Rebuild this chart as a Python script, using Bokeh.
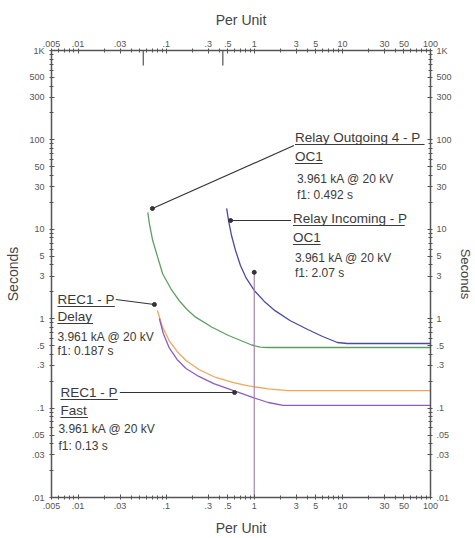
import math
from bokeh.plotting import figure
from bokeh.models import Range1d, LogAxis, FixedTicker, Label
from bokeh.embed import file_html
from bokeh.resources import INLINE

# ---------------- data ----------------
x_major = [0.005, 0.01, 0.03, 0.1, 0.3, 0.5, 1, 3, 5, 10, 30, 50, 100]
x_labels = [".005", ".01", ".03", ".1", ".3", ".5", "1", "3", "5", "10", "30", "50", "100"]
x_minor = [0.006, 0.007, 0.008, 0.009, 0.02, 0.04, 0.05, 0.06, 0.07, 0.08, 0.09,
           0.2, 0.4, 0.6, 0.7, 0.8, 0.9, 2, 4, 6, 7, 8, 9, 20, 40, 60, 70, 80, 90]
y_major = [0.01, 0.03, 0.05, 0.1, 0.3, 0.5, 1, 3, 5, 10, 30, 50, 100, 300, 500, 1000]
y_labels = [".01", ".03", ".05", ".1", ".3", ".5", "1", "3", "5", "10", "30", "50", "100", "300", "500", "1K"]
y_minor = [0.02, 0.04, 0.06, 0.07, 0.08, 0.09, 0.2, 0.4, 0.6, 0.7, 0.8, 0.9,
           2, 4, 6, 7, 8, 9, 20, 40, 60, 70, 80, 90, 200, 400, 600, 700, 800, 900]

# Relay Outgoing 4 - P OC1 (green)
out4_pu = [0.0619, 0.0646, 0.0704, 0.0801, 0.0912, 0.1133, 0.140, 0.1726, 0.216, 0.332, 0.511, 0.934, 1.17, 1.44, 100]
out4_s = [15.5, 11.5, 7.49, 4.88, 3.18, 2.16, 1.60, 1.267, 1.04, 0.803, 0.649, 0.508, 0.482, 0.476, 0.476]
# Relay Incoming - P OC1 (blue)
inc_pu = [0.486, 0.511, 0.552, 0.613, 0.697, 0.814, 1.00, 1.30, 1.72, 2.54, 4.04, 5.96, 8.78, 11.4, 100]
inc_s = [17.1, 12.5, 8.52, 5.79, 3.94, 2.82, 2.07, 1.56, 1.23, 0.955, 0.757, 0.632, 0.542, 0.528, 0.528]
# REC1 - P Delay (orange)
rdel_pu = [0.0795, 0.0905, 0.108, 0.133, 0.168, 0.235, 0.365, 0.582, 0.857, 1.44, 2.41, 100]
rdel_s = [1.235, 0.818, 0.570, 0.430, 0.341, 0.270, 0.220, 0.193, 0.177, 0.164, 0.157, 0.157]
# REC1 - P Fast (purple)
rfast_pu = [0.0837, 0.0928, 0.108, 0.133, 0.168, 0.235, 0.347, 0.582, 0.976, 1.44, 2.12, 100]
rfast_s = [1.005, 0.683, 0.476, 0.350, 0.277, 0.226, 0.188, 0.157, 0.131, 0.1155, 0.107, 0.107]
# fault marker
fault_pu = [1, 1]
fault_s = [0.01, 3.3]
# marks under top axis
mark_pu = [0.055, 0.44]

# ---------------- figure ----------------
FX0, FX1, FY0, FY1 = 51, 434, 50, 497


def dx(px):
    return 10 ** (math.log10(0.005) + (px - FX0) / (FX1 - FX0) * math.log10(100 / 0.005))


def dy(py):
    return 10 ** (3 - (py - FY0) / (FY1 - FY0) * 5)


p = figure(width=475, height=538, x_axis_type="log", y_axis_type="log",
           x_range=Range1d(0.005, 100), y_range=Range1d(0.01, 1000),
           output_backend="svg", toolbar_location=None,
           min_border_left=FX0, min_border_right=475 - FX1,
           min_border_top=FY0, min_border_bottom=538 - FY1)
p.xgrid.grid_line_color = None
p.ygrid.grid_line_color = None
p.outline_line_color = None
p.background_fill_color = "white"
p.border_fill_color = "white"

bottom_ax = p.below[0]
left_ax = p.left[0]
top_ax = LogAxis()
right_ax = LogAxis()
p.add_layout(top_ax, "above")
p.add_layout(right_ax, "right")

AXC = "#555555"


def style(ax, ticks, minor, labels):
    ax.ticker = FixedTicker(ticks=ticks, minor_ticks=minor)
    ax.major_label_overrides = {t: l for t, l in zip(ticks, labels)}
    ax.major_label_text_font = "Liberation Sans"
    ax.major_label_text_font_size = "9px"
    ax.major_label_text_color = "#555555"
    ax.axis_line_color = AXC
    ax.axis_line_width = 1.5
    ax.major_tick_line_color = AXC
    ax.minor_tick_line_color = AXC
    ax.major_tick_in = 3
    ax.major_tick_out = 2
    ax.minor_tick_in = 2
    ax.minor_tick_out = 2
    ax.axis_label_text_font = "Liberation Sans"
    ax.axis_label_text_font_size = "14px"
    ax.axis_label_text_font_style = "normal"
    ax.axis_label_text_color = "#444444"


for ax in (bottom_ax, top_ax):
    style(ax, x_major, x_minor, x_labels)
    ax.axis_label = "Per Unit"
for ax in (left_ax, right_ax):
    style(ax, y_major, y_minor, y_labels)
    ax.axis_label = "Seconds"

top_ax.major_label_standoff = 2
top_ax.axis_label_standoff = 10
bottom_ax.major_label_standoff = 3
bottom_ax.axis_label_standoff = 8
left_ax.major_label_standoff = 5
left_ax.axis_label_standoff = 5
right_ax.major_label_standoff = 4
right_ax.axis_label_standoff = 3
right_ax.axis_label_text_font_size = "13px"

# ---------------- curves ----------------
p.line(out4_pu, out4_s, line_color="#5f9e62", line_width=1.3)
p.line(inc_pu, inc_s, line_color="#4a4aa3", line_width=1.3)
p.line(rdel_pu, rdel_s, line_color="#f2a65a", line_width=1.3)
p.line(rfast_pu, rfast_s, line_color="#8e5cc0", line_width=1.3)
p.line(fault_pu, fault_s, line_color="#a784ad", line_width=1.2)
p.scatter([fault_pu[-1]], [fault_s[-1]], size=4, color="#333333")
for m in mark_pu:
    p.line([m, m], [1000, dy(FY0 + 15)], line_color=AXC, line_width=1.2)

# ---------------- annotations ----------------
TXT = "#3a3a3a"
TFS = "13.5px"
IFS = "12px"


def label(px, py, text, size):
    p.add_layout(Label(x=dx(px), y=dy(py), text=text, text_font="Liberation Sans",
                       text_font_size=size, text_color=TXT, text_baseline="middle"))


def underline(px, py, w):
    p.line([dx(px), dx(px + w)], [dy(py), dy(py)], line_color=TXT, line_width=1)


def leader(p0, p1):
    p.line([dx(p0[0]), dx(p1[0])], [dy(p0[1]), dy(p1[1])], line_color="#333333", line_width=1.2)
    p.scatter([dx(p1[0])], [dy(p1[1])], size=4, color="#333333")


# Relay Outgoing 4 - P
label(297, 137, "Relay Outgoing 4 - P", TFS)
underline(297, 144, 131)
label(297, 156, "OC1", TFS)
underline(297, 163, 28)
label(299, 178, "3.961 kA @ 20 kV", IFS)
label(299, 194, "f1: 0.492 s", IFS)
leader((296, 145), (153, 208))

# Relay Incoming - P
label(295, 218, "Relay Incoming - P", TFS)
underline(295, 225, 113)
label(295, 237, "OC1", TFS)
underline(295, 244, 28)
label(297, 257, "3.961 kA @ 20 kV", IFS)
label(297, 272, "f1: 2.07 s", IFS)
leader((293, 220), (232, 220))

# REC1 - P Delay
label(57, 299, "REC1 - P", TFS)
underline(57, 306, 58)
label(57, 316, "Delay", TFS)
underline(57, 323, 36)
label(57, 336, "3.961 kA @ 20 kV", IFS)
label(57, 350, "f1: 0.187 s", IFS)
leader((116, 299), (155, 304))

# REC1 - P Fast
label(60, 392, "REC1 - P", TFS)
underline(60, 399, 58)
label(60, 410, "Fast", TFS)
underline(60, 417, 28)
label(58, 428, "3.961 kA @ 20 kV", IFS)
label(58, 445, "f1: 0.13 s", IFS)
leader((120, 392), (236, 392))

open("out.html", "w").write(file_html(p, INLINE))
